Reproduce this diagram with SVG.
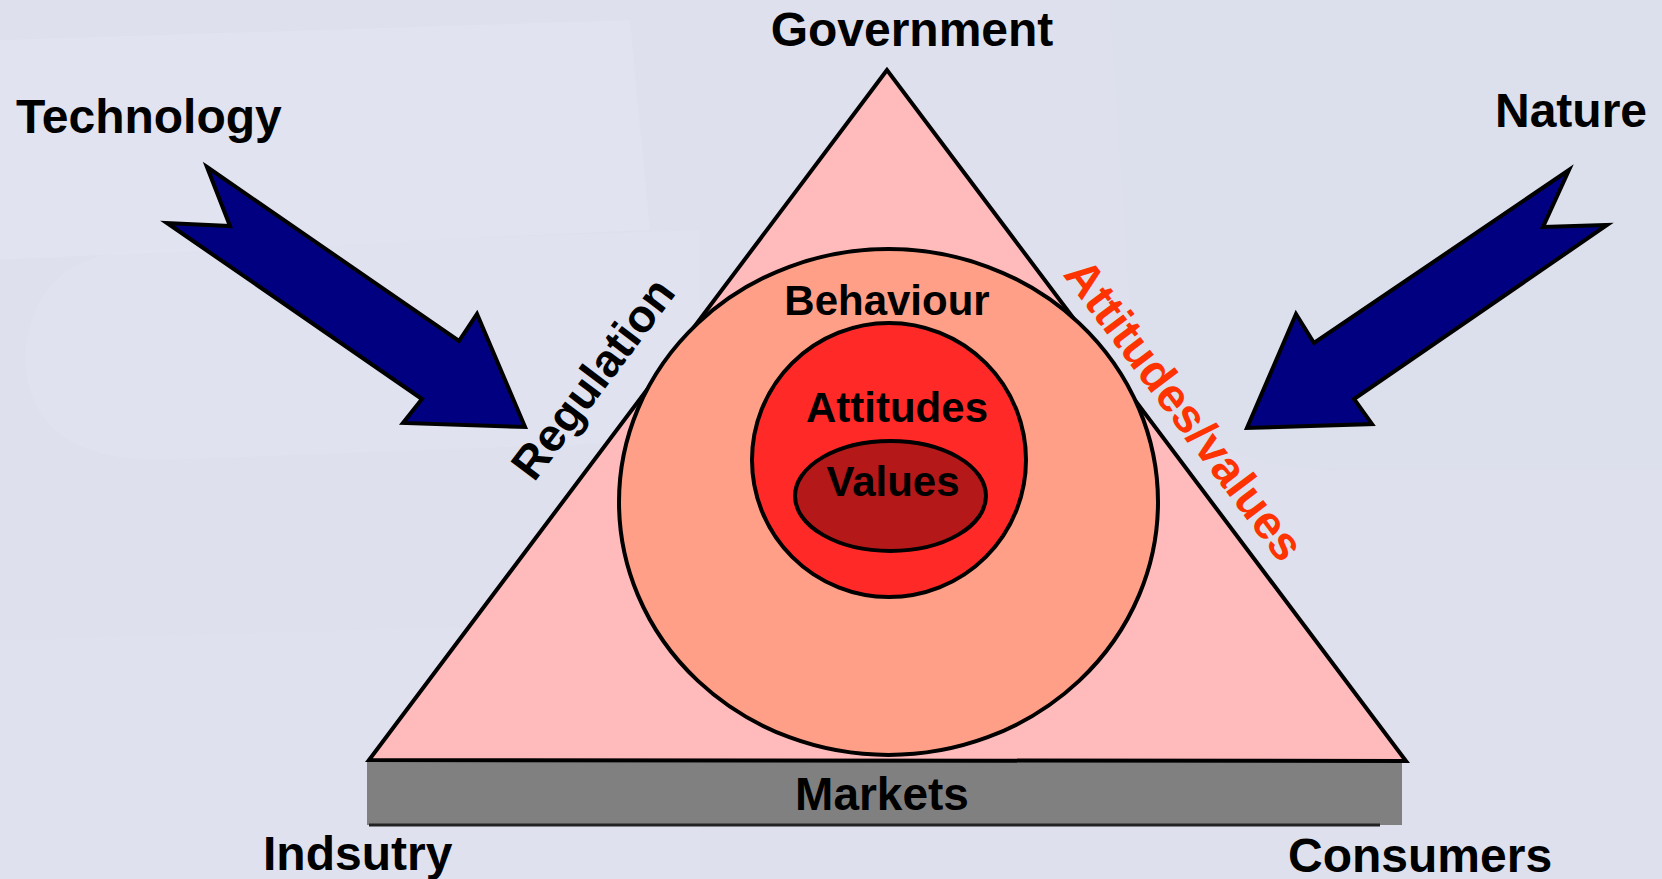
<svg xmlns="http://www.w3.org/2000/svg" width="1662" height="879" viewBox="0 0 1662 879">
  <style>
    .lbl { font-family: "Liberation Sans", Arial, sans-serif; font-weight: bold; fill: #000; }
    .big { font-size: 48px; }
    .mid { font-size: 42px; }
    .edge { stroke: #000; stroke-width: 4; stroke-linejoin: miter; }
    .arrow { fill: #000080; stroke: #000; stroke-width: 4; stroke-linejoin: miter; }
    .bg2 { fill: #E4E6F2; }
  </style>
  <!-- background -->
  <rect x="0" y="0" width="1662" height="879" fill="#DEE0EE"/>
  <path class="bg2" d="M0,40 L630,20 L650,230 L0,260 Z" opacity="0.5"/>
  <path class="bg2" d="M140,250 L700,230 L700,440 L160,460 Q30,460 25,360 Q30,255 140,250 Z" opacity="0.4"/>
  <path class="bg2" d="M0,640 L700,620 L700,879 L0,879 Z" opacity="0.3"/>
  <path d="M1110,0 L1662,0 L1662,470 L1340,470 Q1150,470 1130,300 Z" fill="#DBDDEB" opacity="0.6"/>

  <g id="markets">
    <rect x="367" y="761" width="1035" height="64" fill="#808080"/>
    <line x1="369" y1="825" x2="1380" y2="825" stroke="#222" stroke-width="3"/>
    <text class="lbl" x="882" y="810" font-size="46" text-anchor="middle">Markets</text>
  </g>

  <g id="triangle">
    <polygon class="edge" points="887,70 369,760 1406,761" fill="#FFBBBB"/>
  </g>

  <g id="behaviour">
    <ellipse class="edge" cx="888.5" cy="502" rx="269.5" ry="253" fill="#FF9F87"/>
    <text class="lbl mid" x="887" y="315" text-anchor="middle">Behaviour</text>
  </g>

  <g id="attitudes">
    <circle class="edge" cx="889" cy="460" r="137" fill="#FF2A28"/>
    <text class="lbl mid" x="897" y="422" text-anchor="middle">Attitudes</text>
  </g>

  <g id="values">
    <ellipse class="edge" cx="890.5" cy="496" rx="95.5" ry="55" fill="#B41818"/>
    <text class="lbl mid" x="893" y="496" text-anchor="middle">Values</text>
  </g>

  <g id="connectors">
    <polygon id="arrow-technology" class="arrow" points="207,167 459,341 477,314 525,427 403,423 422,399 167,223 230,226"/>
    <polygon id="arrow-nature" class="arrow" points="1569,170 1543,227 1607,225 1354,399 1372,424 1247,428 1296,314 1314,343"/>
  </g>

  <g id="government"><text class="lbl big" x="912" y="46" text-anchor="middle">Government</text></g>
  <g id="technology"><text class="lbl big" x="16" y="133">Technology</text></g>
  <g id="nature"><text class="lbl big" x="1495" y="127">Nature</text></g>
  <g id="industry"><text class="lbl big" x="263" y="870">Indsutry</text></g>
  <g id="consumers"><text class="lbl big" x="1288" y="872">Consumers</text></g>

  <g id="regulation">
    <text class="lbl" font-size="46" text-anchor="middle" transform="translate(605.5,388) rotate(-53)">Regulation</text>
  </g>
  <g id="attitudes-values">
    <text class="lbl" font-size="47" style="fill:#FF3300" text-anchor="middle" transform="translate(1171.5,419.5) rotate(53)">Attitudes/values</text>
  </g>
</svg>
